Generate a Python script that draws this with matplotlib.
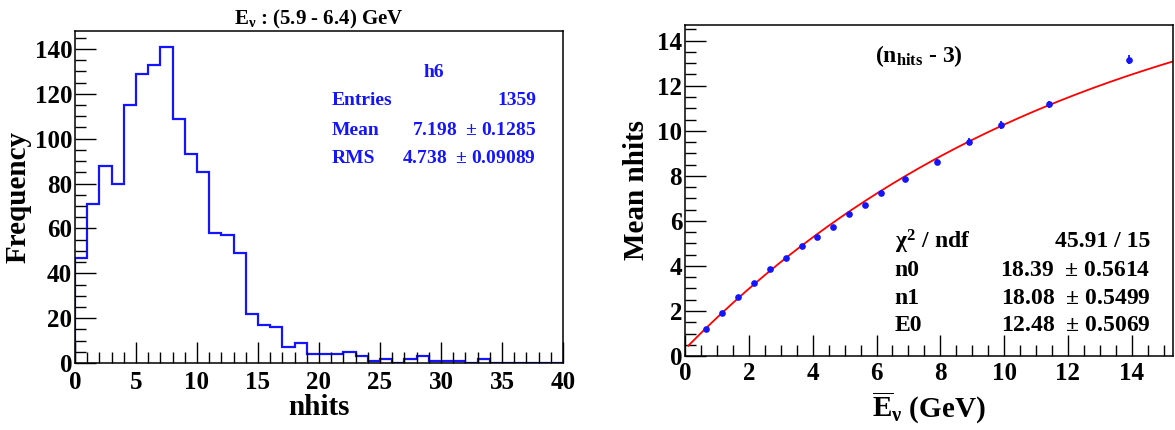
import numpy as np
import matplotlib
matplotlib.use('Agg')
import matplotlib.pyplot as plt
from matplotlib.ticker import MultipleLocator

plt.rcParams['font.family'] = ['Liberation Serif', 'DejaVu Serif']
plt.rcParams['font.weight'] = 'bold'
plt.rcParams['axes.labelweight'] = 'bold'
plt.rcParams['axes.titleweight'] = 'bold'
plt.rcParams['mathtext.fontset'] = 'custom'
plt.rcParams['mathtext.rm'] = 'Liberation Serif:bold'
plt.rcParams['mathtext.it'] = 'Liberation Serif:bold'
plt.rcParams['mathtext.bf'] = 'Liberation Serif:bold'

# histograma nhits, bins de largura 1 em [0, 40)
bordas_hist = np.arange(0, 41, 1)
contagens = [47, 71, 88, 80, 115, 129, 133, 141, 109, 93,
             85, 58, 57, 49, 22, 17, 16, 7, 9, 4,
             4, 4, 5, 3, 1, 2, 0, 2, 3, 1,
             1, 1, 0, 2, 0, 0, 0, 0, 0, 0]

# média de nhits por bin de energia
energia = [0.65, 1.15, 1.65, 2.15, 2.65, 3.15, 3.65, 4.15, 4.65, 5.15,
           5.65, 6.15, 6.9, 7.9, 8.9, 9.9, 11.4, 13.9]
media_nhits = [1.2, 1.9, 2.6, 3.25, 3.85, 4.35, 4.9, 5.3, 5.75, 6.3,
               6.72, 7.22, 7.88, 8.62, 9.52, 10.25, 11.17, 13.15]
erro_nhits = [0.04, 0.04, 0.05, 0.05, 0.05, 0.05, 0.05, 0.05, 0.06, 0.06,
              0.07, 0.13, 0.07, 0.13, 0.16, 0.19, 0.17, 0.2]

# parâmetros do ajuste n0 - n1*exp(-E/E0)
n0, n1, E0 = 18.39, 18.08, 12.48

fig = plt.figure(figsize=(11.75, 4.3), dpi=100)
ax1 = fig.add_axes([0.0638, 0.1558, 0.4153, 0.772])
ax2 = fig.add_axes([0.583, 0.172, 0.415, 0.770])

for ax in (ax1, ax2):
    for s in ax.spines.values():
        s.set_linewidth(1.1)
    ax.tick_params(which='both', direction='in', top=False, right=False,
                   labelsize=18, width=1.0, pad=2)
    ax.tick_params(which='major', length=15)
    ax.tick_params(which='minor', length=8)
ax1.tick_params(axis='x', which='both', pad=6)
ax2.tick_params(axis='x', which='both', pad=4)

# painel esquerdo
azul = '#1414ff'
ax1.stairs(contagens, bordas_hist, color=azul, lw=1.6)
ax1.set_xlim(0, 40)
ax1.set_ylim(0, 148)
ax1.xaxis.set_major_locator(MultipleLocator(5))
ax1.xaxis.set_minor_locator(MultipleLocator(1))
ax1.yaxis.set_major_locator(MultipleLocator(20))
ax1.yaxis.set_minor_locator(MultipleLocator(5))
ax1.set_xlabel('nhits', fontsize=21, labelpad=0)
ax1.set_ylabel('Frequency', fontsize=21, labelpad=2)
ax1.set_title(r'E$_\nu$ : (5.9 - 6.4) GeV', fontsize=15, pad=5)

ax1.text(0.735, 0.875, 'h6', transform=ax1.transAxes, color=azul,
         fontsize=14, ha='center', va='center')
linhas = [('Entries', '1359', 0.79), ('Mean', '7.198  $\\pm$ 0.1285', 0.70),
          ('RMS', '4.738  $\\pm$ 0.09089', 0.615)]
for nome, valor, y in linhas:
    ax1.text(0.527, y, nome, transform=ax1.transAxes, color=azul,
             fontsize=14, ha='left', va='center')
    ax1.text(0.945, y, valor, transform=ax1.transAxes, color=azul,
             fontsize=14, ha='right', va='center')

# painel direito
E = np.linspace(0.1, 15.28, 300)
ax2.plot(E, n0 - n1 * np.exp(-E / E0), color='red', lw=1.3)
ax2.errorbar(energia, media_nhits, yerr=erro_nhits, fmt='o', color=azul,
             ms=3.8, elinewidth=1.3, capsize=0)
ax2.set_xlim(0, 15.28)
ax2.set_ylim(0, 14.7)
ax2.xaxis.set_major_locator(MultipleLocator(2))
ax2.xaxis.set_minor_locator(MultipleLocator(0.5))
ax2.yaxis.set_major_locator(MultipleLocator(2))
ax2.yaxis.set_minor_locator(MultipleLocator(0.5))
ax2.set_xlabel(r'$\overline{\mathrm{E}}_\nu$ (GeV)', fontsize=21, labelpad=3)
ax2.set_ylabel('Mean nhits', fontsize=21, labelpad=5)

ax2.text(0.48, 0.905, r'(n$_{\mathrm{hits}}$ - 3)', transform=ax2.transAxes,
         fontsize=17, ha='center', va='center')
stats = [(r'$\chi^2$ / ndf', '45.91 / 15', 0.345), ('n0', '18.39  $\\pm$ 0.5614', 0.258),
         ('n1', '18.08  $\\pm$ 0.5499', 0.175), ('E0', '12.48  $\\pm$ 0.5069', 0.093)]
for nome, valor, y in stats:
    ax2.text(0.43, y, nome, transform=ax2.transAxes, fontsize=17,
             ha='left', va='center')
    ax2.text(0.955, y, valor, transform=ax2.transAxes, fontsize=17,
             ha='right', va='center')

fig.savefig('out.png', dpi=100)
